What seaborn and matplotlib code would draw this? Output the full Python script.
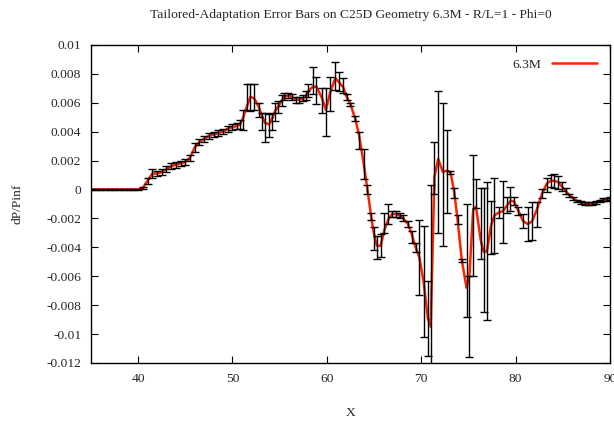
import numpy as np
import pandas as pd
import seaborn as sns
import matplotlib
matplotlib.use("Agg")
import matplotlib.pyplot as plt

# x positions of the samples
x_vals = [
    35.0, 35.5, 36.0, 36.5, 37.0, 37.5, 38.0, 38.5, 39.0, 39.5, 40.0,
    40.5, 41.0, 41.5, 42.0, 42.5, 43.0, 43.5, 44.0, 44.5, 45.0, 45.5,
    46.0, 46.5, 47.0, 47.5, 48.0, 48.5, 49.0, 49.5, 50.0, 50.5, 50.8,
    51.15, 51.5, 51.9, 52.3, 52.8, 53.1, 53.45, 53.9, 54.2, 54.5, 54.8,
    55.2, 55.5, 55.9, 56.3, 56.7, 57.1, 57.5, 57.8, 58.05, 58.5, 58.9,
    59.5, 59.9, 60.35, 60.9, 61.3, 61.7, 62.1, 62.5, 63.0, 63.4, 63.9,
    64.3, 64.7, 65.0, 65.3, 65.7, 66.1, 66.5, 66.9, 67.3, 67.7, 68.1,
    68.6, 69.0, 69.4, 69.8, 70.25, 70.7, 71.0, 71.4, 71.8, 72.3, 72.7,
    73.1, 73.5, 73.85, 74.3, 74.8, 75.1, 75.5, 75.8, 76.3, 76.6, 76.95,
    77.4, 77.75, 78.2, 78.65, 79.1, 79.45, 79.8, 80.3, 80.8, 81.3, 81.75,
    82.3, 82.8, 83.3, 83.7, 84.1, 84.5, 84.9, 85.3, 85.7, 86.1, 86.5,
    86.9, 87.3, 87.7, 88.1, 88.5, 88.9, 89.3, 89.7, 90.0,
]

# dP/Pinf (red curve)
y_vals = [
    0, 0, 0, 0, 0, 0, 0, 0, 0, 0, 0,
    0.0001, 0.0006, 0.0011, 0.0011, 0.0012, 0.0014, 0.0016, 0.0017, 0.0018, 0.0019, 0.0022,
    0.0029, 0.0033, 0.0035, 0.0037, 0.0038, 0.0039, 0.0040, 0.0042, 0.0043, 0.0044, 0.0045,
    0.0050, 0.0057, 0.0064, 0.0063, 0.0057, 0.0051, 0.0046, 0.0045, 0.0049, 0.0054, 0.0057,
    0.0061, 0.0064, 0.0065, 0.0064, 0.0062, 0.0062, 0.0063, 0.0065, 0.0068, 0.0071, 0.0071,
    0.0063, 0.0055, 0.0067, 0.0077, 0.0074, 0.0071, 0.0064, 0.0059, 0.0049, 0.0038, 0.0018,
    0.0000, -0.0019, -0.0031, -0.0039, -0.0039, -0.0028, -0.0021, -0.0017, -0.0017, -0.0018, -0.0020,
    -0.0024, -0.0031, -0.0040, -0.0047, -0.0064, -0.0089, -0.0095, 0.0009, 0.0021, 0.0012, 0.0013,
    0.0012, -0.0002, -0.0021, -0.0049, -0.0068, -0.0060, -0.0014, -0.0012, -0.0035, -0.0043, -0.0043,
    -0.0025, -0.0018, -0.0016, -0.0015, -0.0011, -0.0008, -0.0008, -0.0015, -0.0022, -0.0024, -0.0022,
    -0.0013, -0.0003, 0.0004, 0.0006, 0.0006, 0.0005, 0.0002, -0.0001, -0.0004, -0.0006, -0.0008,
    -0.0009, -0.0010, -0.0010, -0.0010, -0.0009, -0.0008, -0.0007, -0.0007, -0.0006,
]

# bottom and top of each error bar
y_lo = [
    -0.00005, -0.00005, -0.00005, -0.00005, -0.00005, -0.00005, -0.00005, -0.00005, -0.00005, -0.00005, -0.00005,
    0.0000, 0.0004, 0.0008, 0.0009, 0.0010, 0.0012, 0.0014, 0.0015, 0.0016, 0.0017, 0.0020,
    0.0026, 0.0031, 0.0033, 0.0035, 0.0036, 0.0037, 0.0038, 0.0040, 0.0041, 0.0042, 0.0042,
    0.0041, 0.0055, 0.0054, 0.0055, 0.0050, 0.0041, 0.0033, 0.0036, 0.0041, 0.0047, 0.0053,
    0.0058, 0.0062, 0.0063, 0.0062, 0.0060, 0.0060, 0.0061, 0.0062, 0.0064, 0.0066, 0.0059,
    0.0053, 0.0037, 0.0054, 0.0069, 0.0068, 0.0067, 0.0062, 0.0058, 0.0047, 0.0028, 0.0007,
    -0.0003, -0.0021, -0.0042, -0.0048, -0.0047, -0.0030, -0.0024, -0.0019, -0.0019, -0.0020, -0.0022,
    -0.0026, -0.0037, -0.0043, -0.0073, -0.0102, -0.0115, -0.0200, -0.0003, -0.0030, -0.0039, -0.0016,
    0.0011, -0.0006, -0.0024, -0.0050, -0.0088, -0.0116, -0.0060, -0.0013, -0.0048, -0.0085, -0.0090,
    -0.0045, -0.0044, -0.0020, -0.0037, -0.0016, -0.0015, -0.0011, -0.0018, -0.0027, -0.0036, -0.0035,
    -0.0026, -0.0006, -0.0002, 0.0002, 0.0001, 0.0000, -0.0001, -0.0003, -0.0005, -0.0007, -0.0009,
    -0.0010, -0.0011, -0.0011, -0.0011, -0.0010, -0.0009, -0.0008, -0.0008, -0.0007,
]
y_hi = [
    0.00005, 0.00005, 0.00005, 0.00005, 0.00005, 0.00005, 0.00005, 0.00005, 0.00005, 0.00005, 0.00005,
    0.0002, 0.0008, 0.0014, 0.0013, 0.0014, 0.0016, 0.0018, 0.0019, 0.0020, 0.0021, 0.0024,
    0.0032, 0.0035, 0.0037, 0.0039, 0.0040, 0.0041, 0.0042, 0.0044, 0.0045, 0.0046, 0.0048,
    0.0055, 0.0073, 0.0073, 0.0073, 0.0060, 0.0053, 0.0053, 0.0052, 0.0053, 0.0060, 0.0061,
    0.0065, 0.0067, 0.0067, 0.0066, 0.0064, 0.0064, 0.0065, 0.0068, 0.0073, 0.0085, 0.0078,
    0.0070, 0.0070, 0.0078, 0.0088, 0.0081, 0.0077, 0.0066, 0.0060, 0.0051, 0.0040, 0.0028,
    0.0003, -0.0016, -0.0026, -0.0032, -0.0031, -0.0016, -0.0010, -0.0015, -0.0015, -0.0016, -0.0018,
    -0.0022, -0.0029, -0.0037, -0.0021, -0.0025, -0.0063, 0.0003, 0.0033, 0.0068, 0.0060, 0.0041,
    0.0013, 0.0001, -0.0018, -0.0048, -0.0010, -0.0060, 0.0024, 0.0007, 0.0001, 0.0001, 0.0005,
    -0.0008, 0.0008, -0.0012, 0.0006, -0.0005, 0.0002, -0.0005, -0.0012, -0.0017, -0.0012, -0.0009,
    -0.0009, 0.0000, 0.0008, 0.0010, 0.0011, 0.0009, 0.0005, 0.0001, -0.0003, -0.0005, -0.0007,
    -0.0008, -0.0009, -0.0009, -0.0009, -0.0008, -0.0007, -0.0006, -0.0006, -0.0005,
]

df = pd.DataFrame({"X": x_vals, "dP": y_vals, "lo": y_lo, "hi": y_hi})
yerr = np.vstack([df["dP"] - df["lo"], df["hi"] - df["dP"]])

sns.set_style("ticks")
plt.rcParams['font.family'] = ['Liberation Serif', 'DejaVu Serif']
plt.rcParams['font.size'] = 9.7

fig = plt.figure(figsize=(6.14, 4.23), dpi=100)
ax = fig.add_axes([0.148, 0.142, 0.8455, 0.752])

sns.lineplot(data=df, x="X", y="dP", color="#ff2200", linewidth=1.8,
             label="6.3M", ax=ax, zorder=2)
ax.errorbar(df["X"], df["dP"], yerr=yerr, fmt="none", ecolor="black",
            elinewidth=1, capsize=2.8, capthick=1, zorder=3)

ax.set_xlim(35, 90)
ax.set_ylim(-0.012, 0.01)
ax.set_xticks([40, 50, 60, 70, 80, 90])
ax.set_yticks(np.arange(-0.012, 0.0101, 0.002))
ax.set_yticklabels(["-0.012", "-0.01", "-0.008", "-0.006", "-0.004", "-0.002",
                    "0", "0.002", "0.004", "0.006", "0.008", "0.01"])
ax.tick_params(direction="in", top=True, right=True, length=5, width=0.8,
               labelsize=9.7, pad=7, color="black")
for s in ax.spines.values():
    s.set_linewidth(1)
    s.set_color("black")

ax.set_xlabel("X", fontsize=9.7, labelpad=16)
ax.set_ylabel("dP/Pinf", fontsize=9.7, labelpad=16)
ax.set_title("Tailored-Adaptation Error Bars on C25D Geometry 6.3M - R/L=1 - Phi=0",
             fontsize=9.7, pad=19)

ax.legend(loc="upper right", frameon=False, markerfirst=False, fontsize=9.7,
          handlelength=3.3, borderaxespad=0.6)

fig.savefig("out.png", dpi=100)
